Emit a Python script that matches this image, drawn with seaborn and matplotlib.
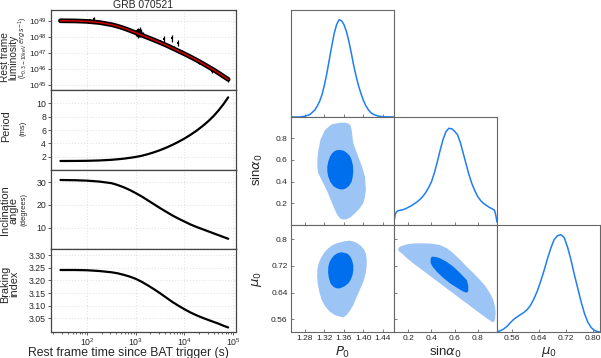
import numpy as np
import pandas as pd
import matplotlib
matplotlib.use("Agg")
import matplotlib.pyplot as plt
import seaborn as sns
from matplotlib.ticker import LogLocator, FixedLocator

# ---------------- data ----------------
# left column: curves vs rest-frame time (log10 seconds)
model_logt = [1.45, 1.75, 2.0, 2.25, 2.5, 2.625, 2.75, 2.875, 3.0, 3.125, 3.25, 3.375, 3.5,
              3.625, 3.75, 3.875, 4.0, 4.125, 4.25, 4.375, 4.5, 4.6, 4.7, 4.8, 4.9]
model_logL = [49.00, 48.99, 48.96, 48.89, 48.76, 48.66, 48.54, 48.40, 48.25, 48.10, 47.95,
              47.80, 47.64, 47.48, 47.30, 47.12, 46.94, 46.75, 46.55, 46.34, 46.12, 45.94,
              45.75, 45.55, 45.35]

obs_logt = [1.46, 1.50, 1.54, 1.58, 1.62, 1.66, 1.70, 1.74, 1.78, 1.82, 1.86, 1.90, 1.94,
            1.98, 2.02, 2.06, 2.10, 2.14, 2.18, 2.22, 2.26, 2.30, 2.36, 2.42,
            2.98, 3.00, 3.02, 3.04, 3.05, 3.06, 3.07, 3.08, 3.09, 3.10, 3.11, 3.12, 3.14,
            3.25, 3.32, 3.38, 3.45, 3.50, 3.55, 3.58, 3.62, 3.68, 3.74, 3.78, 3.87, 3.95,
            4.05, 4.15, 4.30, 4.56, 4.75, 4.90]
obs_logL = [49.04, 48.98, 49.06, 49.00, 48.96, 49.03, 48.99, 49.05, 48.97, 49.01, 49.04, 48.96,
            49.02, 48.99, 48.95, 49.03, 48.98, 49.12, 48.97, 48.93, 48.95, 48.88, 48.86, 48.80,
            48.30, 48.20, 48.35, 48.05, 48.40, 48.15, 48.30, 48.45, 48.10, 48.25, 48.35, 48.15,
            48.20, 47.95, 47.90, 47.80, 47.70, 47.72, 47.60, 47.85, 47.45, 47.45, 47.90, 47.30,
            47.60, 47.05, 46.90, 46.70, 46.40, 45.85, 45.62, 45.30]
obs_err = [0.06, 0.05, 0.07, 0.05, 0.06, 0.05, 0.06, 0.07, 0.05, 0.06, 0.06, 0.05, 0.06,
           0.05, 0.06, 0.05, 0.06, 0.10, 0.05, 0.06, 0.05, 0.06, 0.06, 0.07,
           0.15, 0.12, 0.15, 0.15, 0.12, 0.15, 0.12, 0.15, 0.12, 0.15, 0.12, 0.15, 0.12,
           0.10, 0.10, 0.15, 0.10, 0.10, 0.10, 0.20, 0.10, 0.10, 0.20, 0.10, 0.20, 0.10,
           0.10, 0.10, 0.10, 0.12, 0.12, 0.12]

curve_logt = [1.45, 1.75, 2.0, 2.25, 2.5, 2.625, 2.75, 2.875, 3.0, 3.125, 3.25, 3.375, 3.5,
              3.625, 3.75, 3.875, 4.0, 4.125, 4.25, 4.375, 4.5, 4.6, 4.7, 4.8, 4.9]
period_ms = [1.35, 1.36, 1.38, 1.43, 1.53, 1.61, 1.70, 1.82, 1.96, 2.14, 2.38, 2.66, 2.98,
             3.35, 3.76, 4.22, 4.72, 5.28, 5.90, 6.60, 7.38, 8.10, 8.92, 9.85, 10.90]
incl_deg = [31.0, 30.9, 30.7, 30.3, 29.6, 28.8, 27.8, 26.6, 25.2, 23.7, 22.0, 20.3, 18.6,
            17.0, 15.4, 14.0, 12.7, 11.4, 10.3, 9.3, 8.3, 7.5, 6.7, 5.9, 5.1]
brake_n = [3.241, 3.241, 3.240, 3.237, 3.232, 3.228, 3.222, 3.215, 3.206, 3.194, 3.180, 3.165,
           3.149, 3.132, 3.115, 3.100, 3.086, 3.073, 3.062, 3.052, 3.043, 3.036, 3.029, 3.021,
           3.014]

# right: marginalised posteriors (1D, peak-normalised)
p0_grid = [1.252, 1.27, 1.28, 1.29, 1.30, 1.305, 1.31, 1.315, 1.32, 1.325, 1.33, 1.335, 1.34,
           1.345, 1.35, 1.355, 1.36, 1.365, 1.37, 1.375, 1.38, 1.385, 1.39, 1.395, 1.40, 1.405,
           1.41, 1.415, 1.42, 1.43, 1.44, 1.462]
p0_dens = [0.0, 0.0, 0.008, 0.025, 0.07, 0.11, 0.16, 0.23, 0.33, 0.45, 0.59, 0.73, 0.86,
           0.95, 1.0, 0.99, 0.95, 0.88, 0.78, 0.66, 0.53, 0.42, 0.32, 0.24, 0.17, 0.115,
           0.075, 0.045, 0.028, 0.01, 0.002, 0.0]
sina_grid = [0.076, 0.085, 0.095, 0.11, 0.13, 0.15, 0.175, 0.20, 0.225, 0.25, 0.275, 0.30,
             0.325, 0.35, 0.375, 0.40, 0.425, 0.45, 0.475, 0.50, 0.525, 0.55, 0.575, 0.60,
             0.625, 0.65, 0.675, 0.70, 0.725, 0.75, 0.775, 0.80, 0.825, 0.85, 0.875, 0.90,
             0.925, 0.945, 0.955, 0.967]
sina_dens = [0.03, 0.10, 0.13, 0.145, 0.15, 0.155, 0.165, 0.18, 0.195, 0.215, 0.235, 0.26,
             0.29, 0.33, 0.38, 0.44, 0.53, 0.64, 0.76, 0.87, 0.95, 0.985, 0.98, 0.955,
             0.92, 0.84, 0.73, 0.62, 0.51, 0.42, 0.35, 0.29, 0.25, 0.22, 0.20, 0.18,
             0.165, 0.15, 0.11, 0.03]
mu_grid = [0.5156, 0.525, 0.535, 0.545, 0.555, 0.565, 0.575, 0.585, 0.595, 0.605, 0.615, 0.625,
           0.635, 0.645, 0.655, 0.665, 0.675, 0.685, 0.695, 0.705, 0.715, 0.725, 0.735, 0.745,
           0.755, 0.765, 0.775, 0.785, 0.795, 0.805, 0.815, 0.821]
mu_dens = [0.003, 0.012, 0.03, 0.057, 0.095, 0.13, 0.155, 0.178, 0.20, 0.23, 0.275, 0.34,
           0.42, 0.52, 0.63, 0.75, 0.86, 0.95, 0.99, 1.0, 0.97, 0.87, 0.74, 0.59, 0.45, 0.31,
           0.19, 0.10, 0.045, 0.015, 0.003, 0.0]

# 2D credible regions (95% outer, 68% inner) outlines
p0_sina_95_x = [1.3211, 1.3350, 1.3518, 1.3620, 1.3689, 1.3740, 1.3758, 1.3791, 1.3894, 1.3970,
                1.4031, 1.4051, 1.4030, 1.3996, 1.3920, 1.3826, 1.3740, 1.3655, 1.3580, 1.3518,
                1.3460, 1.3415, 1.3330, 1.3245, 1.3160, 1.3073, 1.3053, 1.3055, 1.3073, 1.3120]
p0_sina_95_y = [0.877, 0.930, 0.944, 0.945, 0.938, 0.915, 0.877, 0.754, 0.630, 0.540,
                0.445, 0.323, 0.255, 0.200, 0.150, 0.107, 0.072, 0.052, 0.050, 0.061,
                0.095, 0.138, 0.230, 0.323, 0.400, 0.477, 0.540, 0.600, 0.680, 0.790]
p0_sina_68_x = [1.3518, 1.3600, 1.3655, 1.3720, 1.3758, 1.3785, 1.3791, 1.3780, 1.3758, 1.3710,
                1.3641, 1.3580, 1.3518, 1.3445, 1.3381, 1.3320, 1.3279, 1.3260, 1.3258, 1.3280,
                1.3313, 1.3355, 1.3401, 1.3460]
p0_sina_68_y = [0.692, 0.685, 0.667, 0.638, 0.600, 0.548, 0.492, 0.443, 0.400, 0.363,
                0.338, 0.327, 0.329, 0.340, 0.360, 0.398, 0.445, 0.490, 0.538, 0.588,
                0.630, 0.660, 0.680, 0.691]

p0_mu_95_x = [1.3450, 1.3600, 1.3723, 1.3830, 1.3928, 1.4000, 1.4051, 1.4068, 1.4065, 1.4045,
              1.4010, 1.3955, 1.3894, 1.3840, 1.3791, 1.3725, 1.3655, 1.3590, 1.3518, 1.3410,
              1.3313, 1.3220, 1.3143, 1.3095, 1.3061, 1.3050, 1.3053, 1.3085, 1.3143, 1.3205,
              1.3279, 1.3360]
p0_mu_95_y = [0.788, 0.794, 0.796, 0.792, 0.783, 0.772, 0.758, 0.738, 0.718, 0.698,
              0.678, 0.658, 0.638, 0.620, 0.603, 0.586, 0.573, 0.566, 0.568, 0.573,
              0.583, 0.598, 0.618, 0.642, 0.668, 0.688, 0.708, 0.730, 0.748, 0.762,
              0.773, 0.782]
p0_mu_68_x = [1.3600, 1.3670, 1.3723, 1.3765, 1.3791, 1.3793, 1.3777, 1.3740, 1.3689, 1.3610,
              1.3518, 1.3445, 1.3381, 1.3325, 1.3292, 1.3275, 1.3279, 1.3305, 1.3348, 1.3400,
              1.3463, 1.3535]
p0_mu_68_y = [0.760, 0.757, 0.750, 0.738, 0.723, 0.708, 0.693, 0.679, 0.668, 0.659,
              0.653, 0.653, 0.658, 0.668, 0.683, 0.700, 0.718, 0.732, 0.743, 0.752,
              0.758, 0.761]

sina_mu_95_x = [0.128, 0.186, 0.260, 0.330, 0.400, 0.474, 0.535, 0.589, 0.650, 0.705, 0.765,
                0.820, 0.870, 0.907, 0.935, 0.950, 0.955, 0.950, 0.935, 0.921, 0.870, 0.820,
                0.765, 0.705, 0.645, 0.589, 0.530, 0.474, 0.415, 0.359, 0.300, 0.243, 0.190,
                0.143, 0.120, 0.112, 0.117]
sina_mu_95_y = [0.778, 0.785, 0.788, 0.788, 0.787, 0.783, 0.773, 0.758, 0.738, 0.718, 0.698,
                0.678, 0.658, 0.638, 0.618, 0.598, 0.578, 0.558, 0.551, 0.553, 0.565, 0.578,
                0.592, 0.608, 0.623, 0.638, 0.653, 0.668, 0.683, 0.698, 0.713, 0.728, 0.743,
                0.758, 0.764, 0.770, 0.775]
sina_mu_68_x = [0.402, 0.440, 0.474, 0.530, 0.589, 0.650, 0.705, 0.718, 0.719, 0.705, 0.676,
                0.620, 0.561, 0.500, 0.446, 0.410, 0.394, 0.392]
sina_mu_68_y = [0.748, 0.747, 0.743, 0.733, 0.718, 0.698, 0.678, 0.662, 0.645, 0.640, 0.643,
                0.655, 0.668, 0.685, 0.703, 0.718, 0.728, 0.740]

# ---------------- styling ----------------
sns.set_style("white")
plt.rcParams["font.family"] = ["Liberation Sans", "DejaVu Sans"]
plt.rcParams["mathtext.fontset"] = "dejavusans"

fig = plt.figure(figsize=(6.01, 3.58), dpi=100)
W, H = 601.0, 358.0


def px_axes(x0, y0, x1, y1):
    return fig.add_axes([x0 / W, 1 - y1 / H, (x1 - x0) / W, (y1 - y0) / H])


# ---------------- left column ----------------
edges = [10, 90, 170, 249, 332]
left_axes = [px_axes(51, edges[i], 236, edges[i + 1]) for i in range(4)]
spine_col = "#444444"

t_model = [10 ** v for v in model_logt]
t_obs = [10 ** v for v in obs_logt]
t_curve = [10 ** v for v in curve_logt]

ax = left_axes[0]
L_obs = np.array([10 ** v for v in obs_logL])
lo = L_obs - np.array([10 ** (a - e) for a, e in zip(obs_logL, obs_err)])
hi = np.array([10 ** (a + e) for a, e in zip(obs_logL, obs_err)]) - L_obs
ax.errorbar(t_obs, L_obs, yerr=[lo, hi], fmt="none", ecolor="black", elinewidth=0.9, zorder=2)
sns.scatterplot(x=t_obs, y=L_obs, ax=ax, color="black", s=3, marker="s", linewidth=0, zorder=3)
L_model = [10 ** v for v in model_logL]
sns.lineplot(x=t_model, y=L_model, ax=ax, color="black", lw=3.4, zorder=4)
sns.lineplot(x=t_model, y=L_model, ax=ax, color="#d40000", lw=1.1, zorder=5)
ax.set_yscale("log")
ax.set_ylim(10 ** 44.69, 10 ** 49.67)
ax.yaxis.set_major_locator(FixedLocator([1e45, 1e46, 1e47, 1e48, 1e49]))
ax.yaxis.set_minor_locator(FixedLocator([]))
ax.set_title("GRB 070521", fontsize=7.5, pad=1.5)

ax = left_axes[1]
sns.lineplot(x=t_curve, y=period_ms, ax=ax, color="black", lw=1.6)
ax.set_ylim(0, 12)
ax.set_yticks([2, 4, 6, 8, 10])

ax = left_axes[2]
sns.lineplot(x=t_curve, y=incl_deg, ax=ax, color="black", lw=1.6)
ax.set_ylim(0.6, 35.4)
ax.set_yticks([10, 20, 30])

ax = left_axes[3]
sns.lineplot(x=t_curve, y=brake_n, ax=ax, color="black", lw=1.6)
ax.set_ylim(2.996, 3.324)
ax.set_yticks([3.05, 3.10, 3.15, 3.20, 3.25, 3.30])
ax.set_yticklabels(["3.05", "3.10", "3.15", "3.20", "3.25", "3.30"])

for i, ax in enumerate(left_axes):
    ax.set_xscale("log")
    ax.set_xlim(18, 1.15e5)
    ax.xaxis.set_major_locator(LogLocator(base=10, numticks=10))
    ax.xaxis.set_minor_locator(LogLocator(base=10, subs=np.arange(2, 10), numticks=20))
    ax.grid(True, which="major", color="#e4e4e4", ls=":", lw=0.8)
    ax.set_axisbelow(True)
    for s in ax.spines.values():
        s.set_color(spine_col)
        s.set_linewidth(0.9)
    ax.tick_params(axis="y", which="major", labelsize=6.3, length=2, width=0.6,
                   color=spine_col, pad=1.5, left=True)
    ax.tick_params(axis="x", which="both", color=spine_col, bottom=True, width=0.6)
    ax.tick_params(axis="x", which="major", length=2.5, labelsize=6.3, pad=0.5)
    ax.tick_params(axis="x", which="minor", length=1.5)
    ax.set_xlabel("")
    ax.set_ylabel("")
    if i < 3:
        ax.tick_params(axis="x", which="both", labelbottom=False, bottom=False)
left_axes[0].tick_params(axis="y", labelsize=6.0, pad=1.0)

fig.text(128 / W, 1 - 353 / H, "Rest frame time since BAT trigger (s)", fontsize=8.8,
         ha="center", va="center")

# two-part y labels
lab = dict(rotation=90, ha="center", va="center", transform=fig.transFigure)
fig.text(9.5 / W, 1 - 57 / H, "Rest frame\nluminosity", fontsize=7.3, linespacing=0.8, **lab)
fig.text(23.8 / W, 1 - 48 / H, r"(L$_{0.3-10keV}$ $erg\,s^{-1}$)", fontsize=4.8, **lab)
fig.text(6.5 / W, 1 - 126 / H, "Period", fontsize=7.8, **lab)
fig.text(23 / W, 1 - 128 / H, "(ms)", fontsize=5.5, **lab)
fig.text(9 / W, 1 - 210 / H, "Inclination\nangle", fontsize=7.8, linespacing=0.85, **lab)
fig.text(24 / W, 1 - 210 / H, "(degrees)", fontsize=5.5, **lab)
fig.text(10 / W, 1 - 284 / H, "Braking\nindex", fontsize=7.8, linespacing=0.9, **lab)

# ---------------- right: triangle plot ----------------
cols = [291, 394, 497, 600]
rows = [10, 117, 225, 332]
c_line = "#1f7ef0"
c_in = "#006FED"
c_out = "#9cc4f5"
corner_spine = "#666666"

xlims = [(1.2514, 1.4627), (0.076, 0.967), (0.5156, 0.821)]
ylims = {1: (-0.001, 0.997), 2: (0.522, 0.843)}
xt = [[1.28, 1.32, 1.36, 1.40, 1.44], [0.2, 0.4, 0.6, 0.8], [0.56, 0.64, 0.72, 0.80]]
xtl = [["1.28", "1.32", "1.36", "1.40", "1.44"], ["0.2", "0.4", "0.6", "0.8"],
       ["0.56", "0.64", "0.72", "0.80"]]
yt = {1: [0.2, 0.4, 0.6, 0.8], 2: [0.56, 0.64, 0.72, 0.8]}
ytl = {1: ["0.2", "0.4", "0.6", "0.8"], 2: ["0.56", "0.64", "0.72", "0.8"]}
xnames = [r"$P_0$", r"sin$\alpha_0$", r"$\mu_0$"]
ynames = {1: r"sin$\alpha_0$", 2: r"$\mu_0$"}

grids = [p0_grid, sina_grid, mu_grid]
dens = [p0_dens, sina_dens, mu_dens]
pairs = {
    (1, 0): [(p0_sina_95_x, p0_sina_95_y), (p0_sina_68_x, p0_sina_68_y)],
    (2, 0): [(p0_mu_95_x, p0_mu_95_y), (p0_mu_68_x, p0_mu_68_y)],
    (2, 1): [(sina_mu_95_x, sina_mu_95_y), (sina_mu_68_x, sina_mu_68_y)],
}

for i in range(3):
    for j in range(i + 1):
        ax = px_axes(cols[j], rows[i], cols[j + 1], rows[i + 1])
        if i == j:
            df = pd.DataFrame({"x": grids[i], "d": dens[i]})
            sns.lineplot(data=df, x="x", y="d", ax=ax, color=c_line, lw=1.1)
            ax.set_ylim(0, 1.1)
            ax.set_yticks([])
        else:
            (ox, oy), (ix, iy) = pairs[(i, j)]
            ax.fill(ox, oy, color=c_out, lw=0)
            ax.fill(ix, iy, color=c_in, lw=0)
            ax.set_ylim(*ylims[i])
            ax.set_yticks(yt[i])
            if j == 0:
                ax.set_yticklabels(ytl[i])
            else:
                ax.set_yticklabels([])
        ax.set_xlim(*xlims[j])
        ax.set_xticks(xt[j])
        if i == 2:
            ax.set_xticklabels(xtl[j])
        else:
            ax.set_xticklabels([])
        ax.set_xlabel("")
        ax.set_ylabel("")
        ax.tick_params(direction="in", length=2.5, width=0.6, color=corner_spine,
                       labelsize=6, pad=2.5, bottom=True, left=(i != j))
        for s in ax.spines.values():
            s.set_color(corner_spine)
            s.set_linewidth(0.8)

for j, name in enumerate(xnames):
    fig.text((cols[j] + cols[j + 1]) / 2 / W, 1 - 352 / H, name, fontsize=9.5,
             ha="center", va="center")
fig.text(257 / W, 1 - 170 / H, ynames[1], fontsize=9.5, rotation=90, ha="center", va="center")
fig.text(257 / W, 1 - 279 / H, ynames[2], fontsize=9.5, rotation=90, ha="center", va="center")

fig.savefig("out.png", dpi=100)
